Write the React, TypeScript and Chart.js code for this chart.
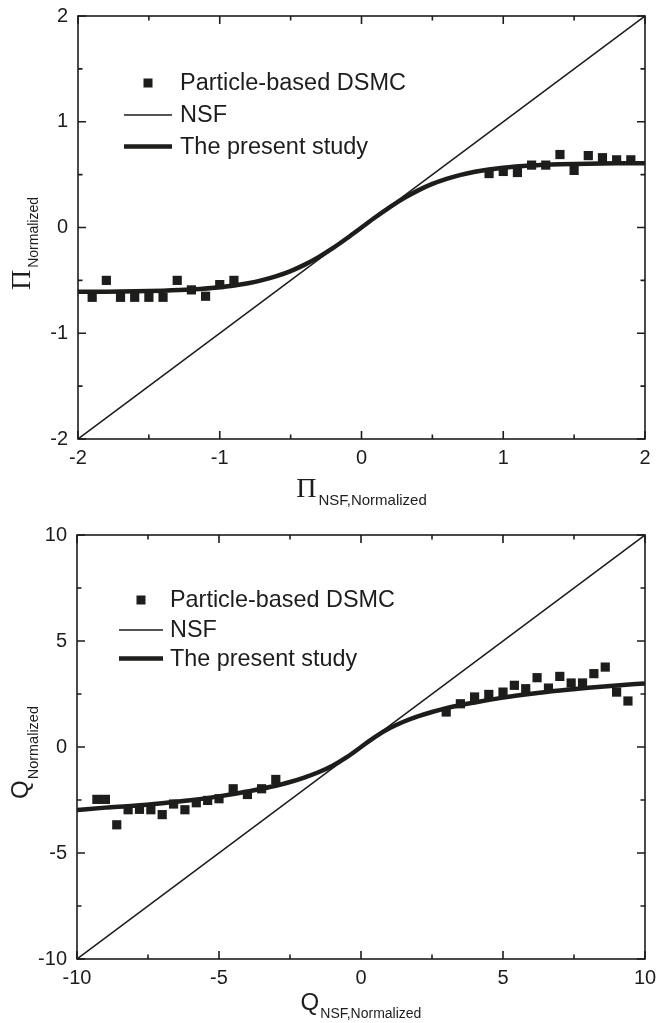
import React, { useEffect, useRef } from 'react';
import { Chart, registerables } from 'chart.js';

Chart.register(...registerables);

const SANS = "'Liberation Sans', Arial, Helvetica, sans-serif";
const SERIF = "'Liberation Serif', 'Times New Roman', serif";
const INK = '#1d1d1b';

const legendLabels = ['Particle-based DSMC', 'NSF', 'The present study'];

// ---------- Top panel: Pi ----------
const piDsmcX = [-1.9, -1.8, -1.7, -1.6, -1.5, -1.4, -1.3, -1.2, -1.1, -1.0, -0.9, 0.9, 1.0, 1.1, 1.2, 1.3, 1.4, 1.5, 1.6, 1.7, 1.8, 1.9];
const piDsmcY = [-0.66, -0.5, -0.66, -0.66, -0.66, -0.66, -0.5, -0.59, -0.65, -0.54, -0.5, 0.51, 0.53, 0.52, 0.59, 0.59, 0.69, 0.54, 0.68, 0.66, 0.64, 0.64];
const piNsfX = [-2, 2];
const piNsfY = [-2, 2];
const piStudyX = [-2, -1.8, -1.6, -1.4, -1.2, -1.0, -0.8, -0.7, -0.6, -0.5, -0.4, -0.3, -0.2, -0.1, 0, 0.1, 0.2, 0.3, 0.4, 0.5, 0.6, 0.7, 0.8, 1.0, 1.2, 1.4, 1.6, 1.8, 2.0];
const piStudyY = [-0.608, -0.607, -0.604, -0.598, -0.587, -0.566, -0.527, -0.498, -0.46, -0.412, -0.351, -0.278, -0.193, -0.099, 0, 0.099, 0.193, 0.278, 0.351, 0.412, 0.46, 0.498, 0.527, 0.566, 0.587, 0.598, 0.604, 0.607, 0.608];
const piMajorTicks = [-2, -1, 0, 1, 2];
const piMinorTicks = [-1.5, -0.5, 0.5, 1.5];

// ---------- Bottom panel: Q ----------
const qDsmcX = [-9.3, -9.0, -8.6, -8.2, -7.8, -7.4, -7.0, -6.6, -6.2, -5.8, -5.4, -5.0, -4.5, -4.0, -3.5, -3.0, 3.0, 3.5, 4.0, 4.5, 5.0, 5.4, 5.8, 6.2, 6.6, 7.0, 7.4, 7.8, 8.2, 8.6, 9.0, 9.4];
const qDsmcY = [-2.47, -2.47, -3.67, -2.96, -2.94, -2.96, -3.19, -2.69, -2.96, -2.63, -2.52, -2.44, -1.97, -2.24, -1.97, -1.53, 1.65, 2.04, 2.36, 2.48, 2.59, 2.91, 2.75, 3.27, 2.78, 3.33, 3.02, 3.02, 3.46, 3.77, 2.59, 2.17];
const qNsfX = [-10, 10];
const qNsfY = [-10, 10];
const qStudyX = [-10, -9, -8, -7, -6, -5, -4, -3, -2.5, -2, -1.5, -1, -0.5, 0, 0.5, 1, 1.5, 2, 2.5, 3, 4, 5, 6, 7, 8, 9, 10];
const qStudyY = [-2.97, -2.86, -2.77, -2.65, -2.51, -2.33, -2.1, -1.83, -1.65, -1.44, -1.19, -0.88, -0.48, 0, 0.48, 0.88, 1.19, 1.44, 1.65, 1.83, 2.1, 2.33, 2.51, 2.66, 2.79, 2.9, 3.0];
const qMajorTicks = [-10, -5, 0, 5, 10];
const qMinorTicks = [-7.5, -2.5, 2.5, 7.5];

type Panel = {
  height: number;
  dsmcX: number[]; dsmcY: number[];
  nsfX: number[]; nsfY: number[];
  studyX: number[]; studyY: number[];
  min: number; max: number; step: number;
  major: number[]; minor: number[];
  padTop: number; padRight: number; yAxisWidth: number; xAxisHeight: number;
  legend: { markerX: number; lineX1: number; lineX2: number; textX: number; rows: number[]; font: number };
  xTitle: { main: string; mainFont: string; sub: string; subFont: string; baseline: number; subBaseline: number; gap: number };
  yTitle: { main: string; mainFont: string; sub: string; subFont: string; x: number; subX: number; startY: number; gap: number };
};

const pts = (xs: number[], ys: number[]) => xs.map((x, i) => ({ x, y: ys[i] }));

const decorPlugin = {
  id: 'decor',
  afterDraw(chart: any, _args: any, opts: any) {
    const p: Panel = opts.panel;
    const ctx = chart.ctx as CanvasRenderingContext2D;
    const { left, right, top, bottom } = chart.chartArea;
    const xs = chart.scales.x;
    const ys = chart.scales.y;
    ctx.save();
    ctx.strokeStyle = INK;
    ctx.fillStyle = INK;
    ctx.lineWidth = 1.6;
    ctx.lineCap = 'butt';
    ctx.strokeRect(left, top, right - left, bottom - top);
    const tick = (vals: number[], len: number) => {
      ctx.beginPath();
      vals.forEach((v) => {
        const px = xs.getPixelForValue(v);
        ctx.moveTo(px, bottom); ctx.lineTo(px, bottom - len);
        ctx.moveTo(px, top); ctx.lineTo(px, top + len);
        const py = ys.getPixelForValue(v);
        ctx.moveTo(left, py); ctx.lineTo(left + len, py);
        ctx.moveTo(right, py); ctx.lineTo(right - len, py);
      });
      ctx.stroke();
    };
    tick(p.major, 8);
    tick(p.minor, 4.5);

    // legend
    const lg = p.legend;
    const ds = chart.data.datasets;
    ctx.fillRect(lg.markerX - 4.5, lg.rows[0] - 4.5, 9, 9);
    ctx.beginPath();
    ctx.lineWidth = ds[1].borderWidth;
    ctx.moveTo(lg.lineX1, lg.rows[1]); ctx.lineTo(lg.lineX2, lg.rows[1]);
    ctx.stroke();
    ctx.beginPath();
    ctx.lineWidth = ds[2].borderWidth;
    ctx.moveTo(lg.lineX1, lg.rows[2]); ctx.lineTo(lg.lineX2, lg.rows[2]);
    ctx.stroke();
    ctx.font = `${lg.font}px ${SANS}`;
    ctx.textAlign = 'left';
    ctx.textBaseline = 'middle';
    ds.forEach((d: any, i: number) => ctx.fillText(d.label, lg.textX, lg.rows[i] + 1));

    // x title
    const xt = p.xTitle;
    ctx.textBaseline = 'alphabetic';
    ctx.font = xt.mainFont;
    const wMain = ctx.measureText(xt.main).width;
    ctx.font = xt.subFont;
    const wSub = ctx.measureText(xt.sub).width;
    const cx = (left + right) / 2;
    const sx = cx - (wMain + xt.gap + wSub) / 2;
    ctx.font = xt.mainFont;
    ctx.fillText(xt.main, sx, xt.baseline);
    ctx.font = xt.subFont;
    ctx.fillText(xt.sub, sx + wMain + xt.gap, xt.subBaseline);

    // y title (rotated)
    const yt = p.yTitle;
    ctx.save();
    ctx.translate(yt.x, yt.startY);
    ctx.rotate(-Math.PI / 2);
    ctx.font = yt.mainFont;
    const wyMain = ctx.measureText(yt.main).width;
    ctx.fillText(yt.main, 0, 0);
    ctx.font = yt.subFont;
    ctx.fillText(yt.sub, wyMain + yt.gap, yt.subX - yt.x);
    ctx.restore();

    ctx.restore();
  },
};

function makeConfig(p: Panel): any {
  const tickFont = { family: SANS, size: 20 };
  return {
    type: 'scatter',
    data: {
      datasets: [
        {
          label: legendLabels[0], data: pts(p.dsmcX, p.dsmcY), showLine: false,
          pointStyle: 'rect', pointRadius: 6.5, pointHoverRadius: 6.5,
          backgroundColor: INK, borderColor: INK, borderWidth: 0, order: 0,
        },
        {
          label: legendLabels[1], data: pts(p.nsfX, p.nsfY), showLine: true,
          pointRadius: 0, borderColor: INK, backgroundColor: INK, borderWidth: 1.5, order: 2,
        },
        {
          label: legendLabels[2], data: pts(p.studyX, p.studyY), showLine: true,
          pointRadius: 0, borderColor: INK, backgroundColor: INK, borderWidth: 4.5,
          cubicInterpolationMode: 'monotone', order: 1,
        },
      ],
    },
    options: {
      responsive: false,
      animation: false,
      events: [],
      layout: { padding: { left: 0, right: p.padRight, top: p.padTop, bottom: 0 } },
      plugins: { legend: { display: false }, tooltip: { enabled: false }, decor: { panel: p } },
      scales: {
        x: {
          type: 'linear', min: p.min, max: p.max,
          ticks: { stepSize: p.step, font: tickFont, color: INK, padding: 7, maxRotation: 0, autoSkip: false },
          grid: { display: false, drawTicks: false },
          border: { display: false },
          afterFit: (s: any) => { s.height = p.xAxisHeight; s.paddingLeft = 0; s.paddingRight = 0; },
        },
        y: {
          type: 'linear', min: p.min, max: p.max,
          ticks: { stepSize: p.step, font: tickFont, color: INK, padding: 10, autoSkip: false },
          grid: { display: false, drawTicks: false },
          border: { display: false },
          afterFit: (s: any) => { s.width = p.yAxisWidth; s.paddingTop = 0; s.paddingBottom = 0; },
        },
      },
    },
    plugins: [decorPlugin],
  };
}

const topPanel: Panel = {
  height: 512,
  dsmcX: piDsmcX, dsmcY: piDsmcY, nsfX: piNsfX, nsfY: piNsfY, studyX: piStudyX, studyY: piStudyY,
  min: -2, max: 2, step: 1, major: piMajorTicks, minor: piMinorTicks,
  padTop: 16, padRight: 11, yAxisWidth: 78, xAxisHeight: 73,
  legend: { markerX: 148, lineX1: 124, lineX2: 172, textX: 180, rows: [83, 115, 146.5], font: 23.5 },
  xTitle: { main: '\u03A0', mainFont: `28px ${SERIF}`, sub: 'NSF,Normalized', subFont: `15px ${SANS}`, baseline: 497, subBaseline: 505, gap: 2 },
  yTitle: { main: '\u03A0', mainFont: `28px ${SERIF}`, sub: 'Normalized', subFont: `14px ${SANS}`, x: 30, subX: 38, startY: 290, gap: 2 },
};

const bottomPanel: Panel = {
  height: 511,
  dsmcX: qDsmcX, dsmcY: qDsmcY, nsfX: qNsfX, nsfY: qNsfY, studyX: qStudyX, studyY: qStudyY,
  min: -10, max: 10, step: 5, major: qMajorTicks, minor: qMinorTicks,
  padTop: 23, padRight: 11, yAxisWidth: 77, xAxisHeight: 64,
  legend: { markerX: 141, lineX1: 119, lineX2: 163, textX: 170, rows: [88, 118, 146.5], font: 23.4 },
  xTitle: { main: 'Q', mainFont: `24px ${SANS}`, sub: 'NSF,Normalized', subFont: `14px ${SANS}`, baseline: 498, subBaseline: 506, gap: 1 },
  yTitle: { main: 'Q', mainFont: `24px ${SANS}`, sub: 'Normalized', subFont: `14.5px ${SANS}`, x: 28, subX: 38, startY: 287, gap: 1 },
};

function ChartPanel({ panel, top }: { panel: Panel; top: number }) {
  const ref = useRef<HTMLCanvasElement>(null);
  useEffect(() => {
    const chart = new Chart(ref.current as HTMLCanvasElement, makeConfig(panel));
    return () => chart.destroy();
  }, [panel]);
  return (
    <canvas
      ref={ref}
      width={656}
      height={panel.height}
      style={{ position: 'absolute', left: 0, top, width: 656, height: panel.height, display: 'block' }}
    />
  );
}

export default function App() {
  return (
    <div style={{ position: 'absolute', left: 0, top: 0, width: 656, height: 1023, overflow: 'hidden', background: '#fff' }}>
      <ChartPanel panel={topPanel} top={0} />
      <ChartPanel panel={bottomPanel} top={512} />
    </div>
  );
}
